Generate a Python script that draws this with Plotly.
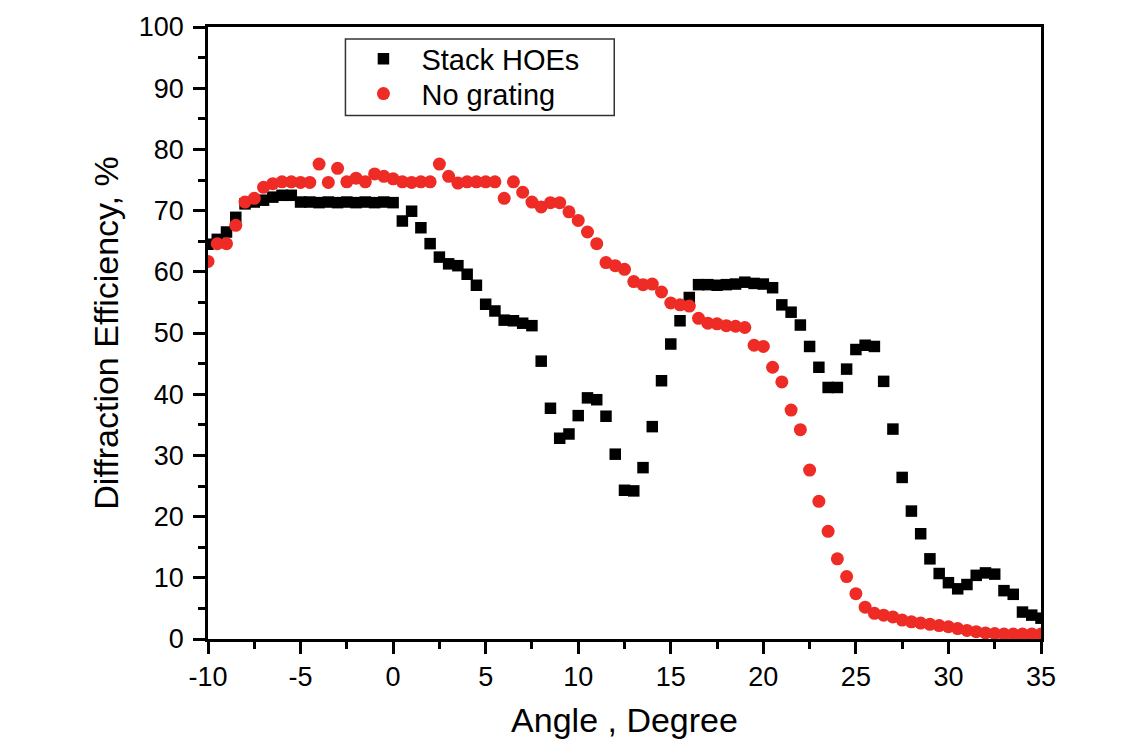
import plotly.graph_objects as go

# Incidence angle (degrees), sampled every half degree
angle = [
    -10, -9.5, -9, -8.5, -8, -7.5, -7, -6.5, -6, -5.5,
    -5, -4.5, -4, -3.5, -3, -2.5, -2, -1.5, -1, -0.5,
    0, 0.5, 1, 1.5, 2, 2.5, 3, 3.5, 4, 4.5,
    5, 5.5, 6, 6.5, 7, 7.5, 8, 8.5, 9, 9.5,
    10, 10.5, 11, 11.5, 12, 12.5, 13, 13.5, 14, 14.5,
    15, 15.5, 16, 16.5, 17, 17.5, 18, 18.5, 19, 19.5,
    20, 20.5, 21, 21.5, 22, 22.5, 23, 23.5, 24, 24.5,
    25, 25.5, 26, 26.5, 27, 27.5, 28, 28.5, 29, 29.5,
    30, 30.5, 31, 31.5, 32, 32.5, 33, 33.5, 34, 34.5,
    35,
]

# Diffraction efficiency (%) of the stacked HOEs
stack_hoes = [
    64.5, 65.3, 66.5, 68.9, 71.1, 71.4, 71.7, 72.2, 72.5, 72.5,
    71.4, 71.4, 71.3, 71.4, 71.3, 71.4, 71.3, 71.4, 71.3, 71.4,
    71.3, 68.3, 69.9, 67.2, 64.6, 62.4, 61.3, 61.0, 59.6, 57.8,
    54.7, 53.6, 52.1, 52.0, 51.6, 51.2, 45.4, 37.7, 32.8, 33.5,
    36.5, 39.4, 39.1, 36.4, 30.2, 24.3, 24.2, 28.0, 34.7, 42.2,
    48.2, 52.0, 55.8, 57.9, 57.9, 57.8, 57.9, 58.0, 58.3, 58.1,
    58.0, 57.4, 54.6, 53.4, 51.3, 47.8, 44.4, 41.1, 41.1, 44.1,
    47.3, 48.0, 47.8, 42.1, 34.3, 26.4, 20.9, 17.2, 13.1, 10.7,
    9.2, 8.2, 8.9, 10.4, 10.8, 10.6, 7.9, 7.3, 4.4, 3.9,
    3.4,
]

# Diffraction efficiency (%) without the grating
no_grating = [
    61.7, 64.6, 64.6, 67.6, 71.4, 72.0, 73.8, 74.4, 74.7, 74.7,
    74.6, 74.6, 77.6, 74.6, 76.9, 74.7, 75.3, 74.7, 76.0, 75.6,
    75.2, 74.7, 74.6, 74.7, 74.7, 77.6, 75.6, 74.5, 74.7, 74.7,
    74.7, 74.7, 72.0, 74.7, 73.0, 71.4, 70.6, 71.3, 71.3, 69.8,
    68.4, 66.5, 64.6, 61.5, 61.0, 60.4, 58.4, 57.9, 58.0, 56.7,
    54.9, 54.6, 54.4, 52.4, 51.6, 51.5, 51.2, 51.1, 50.9, 48.0,
    47.8, 44.4, 42.0, 37.4, 34.2, 27.6, 22.5, 17.6, 13.1, 10.2,
    7.4, 5.2, 4.2, 3.9, 3.6, 3.1, 2.8, 2.6, 2.4, 2.2,
    2.0, 1.7, 1.4, 1.2, 1.0, 0.9, 0.8, 0.8, 0.8, 0.8,
    0.8,
]

x_ticks = [-10, -5, 0, 5, 10, 15, 20, 25, 30, 35]
y_ticks = [0, 10, 20, 30, 40, 50, 60, 70, 80, 90, 100]

FONT = "Arial, Liberation Sans, Helvetica, sans-serif"

fig = go.Figure()
fig.add_trace(go.Scatter(
    x=angle, y=stack_hoes, mode="markers", name="Stack HOEs", legend="legend",
    marker=dict(symbol="square", size=11.5, color="#000000", line=dict(width=0)),
))
fig.add_trace(go.Scatter(
    x=angle, y=no_grating, mode="markers", name="No grating", legend="legend2",
    marker=dict(symbol="circle", size=13, color="#EE2B24", line=dict(width=0)),
))

axis_common = dict(
    showgrid=False, zeroline=False,
    showline=True, linecolor="#000000", linewidth=2.5, mirror=True,
    ticks="outside", ticklen=12, tickwidth=2.5, tickcolor="#000000",
    tickfont=dict(family=FONT, size=27, color="#000000"),
)

fig.update_xaxes(
    range=[-10, 35], tickvals=x_ticks, ticktext=[str(v) for v in x_ticks],
    minor=dict(dtick=2.5, tick0=-10, ticks="outside", ticklen=7,
               tickwidth=2.5, tickcolor="#000000"),
    title=dict(text="Angle , Degree", font=dict(family=FONT, size=34, color="#000000"),
               standoff=18),
    **axis_common,
)
fig.update_yaxes(
    range=[0, 100], tickvals=y_ticks, ticktext=[str(v) for v in y_ticks],
    minor=dict(dtick=5, tick0=0, ticks="outside", ticklen=7,
               tickwidth=2.5, tickcolor="#000000"),
    ticklabelstandoff=4,
    title=dict(text="Diffraction Efficiency, %", font=dict(family=FONT, size=34, color="#000000"),
               standoff=10),
    **axis_common,
)

# One single-entry legend per series, framed by a shared box
legend_common = dict(
    xanchor="left", yanchor="middle",
    bgcolor="rgba(0,0,0,0)", borderwidth=0,
    font=dict(family=FONT, size=29, color="#000000"),
    itemsizing="trace", itemwidth=66,
)

fig.update_layout(
    width=1140, height=746,
    margin=dict(l=208, r=99, t=24, b=107),
    paper_bgcolor="#ffffff", plot_bgcolor="#ffffff",
    showlegend=True,
    legend=dict(x=0.165, y=0.948, **legend_common),
    legend2=dict(x=0.165, y=0.891, **legend_common),
    shapes=[dict(
        type="rect", xref="paper", yref="paper",
        x0=0.165, x1=0.4877, y0=0.8553, y1=0.9805,
        line=dict(color="#333333", width=1.5), fillcolor="#ffffff", layer="below",
    )],
)

fig.write_html("out.html")
